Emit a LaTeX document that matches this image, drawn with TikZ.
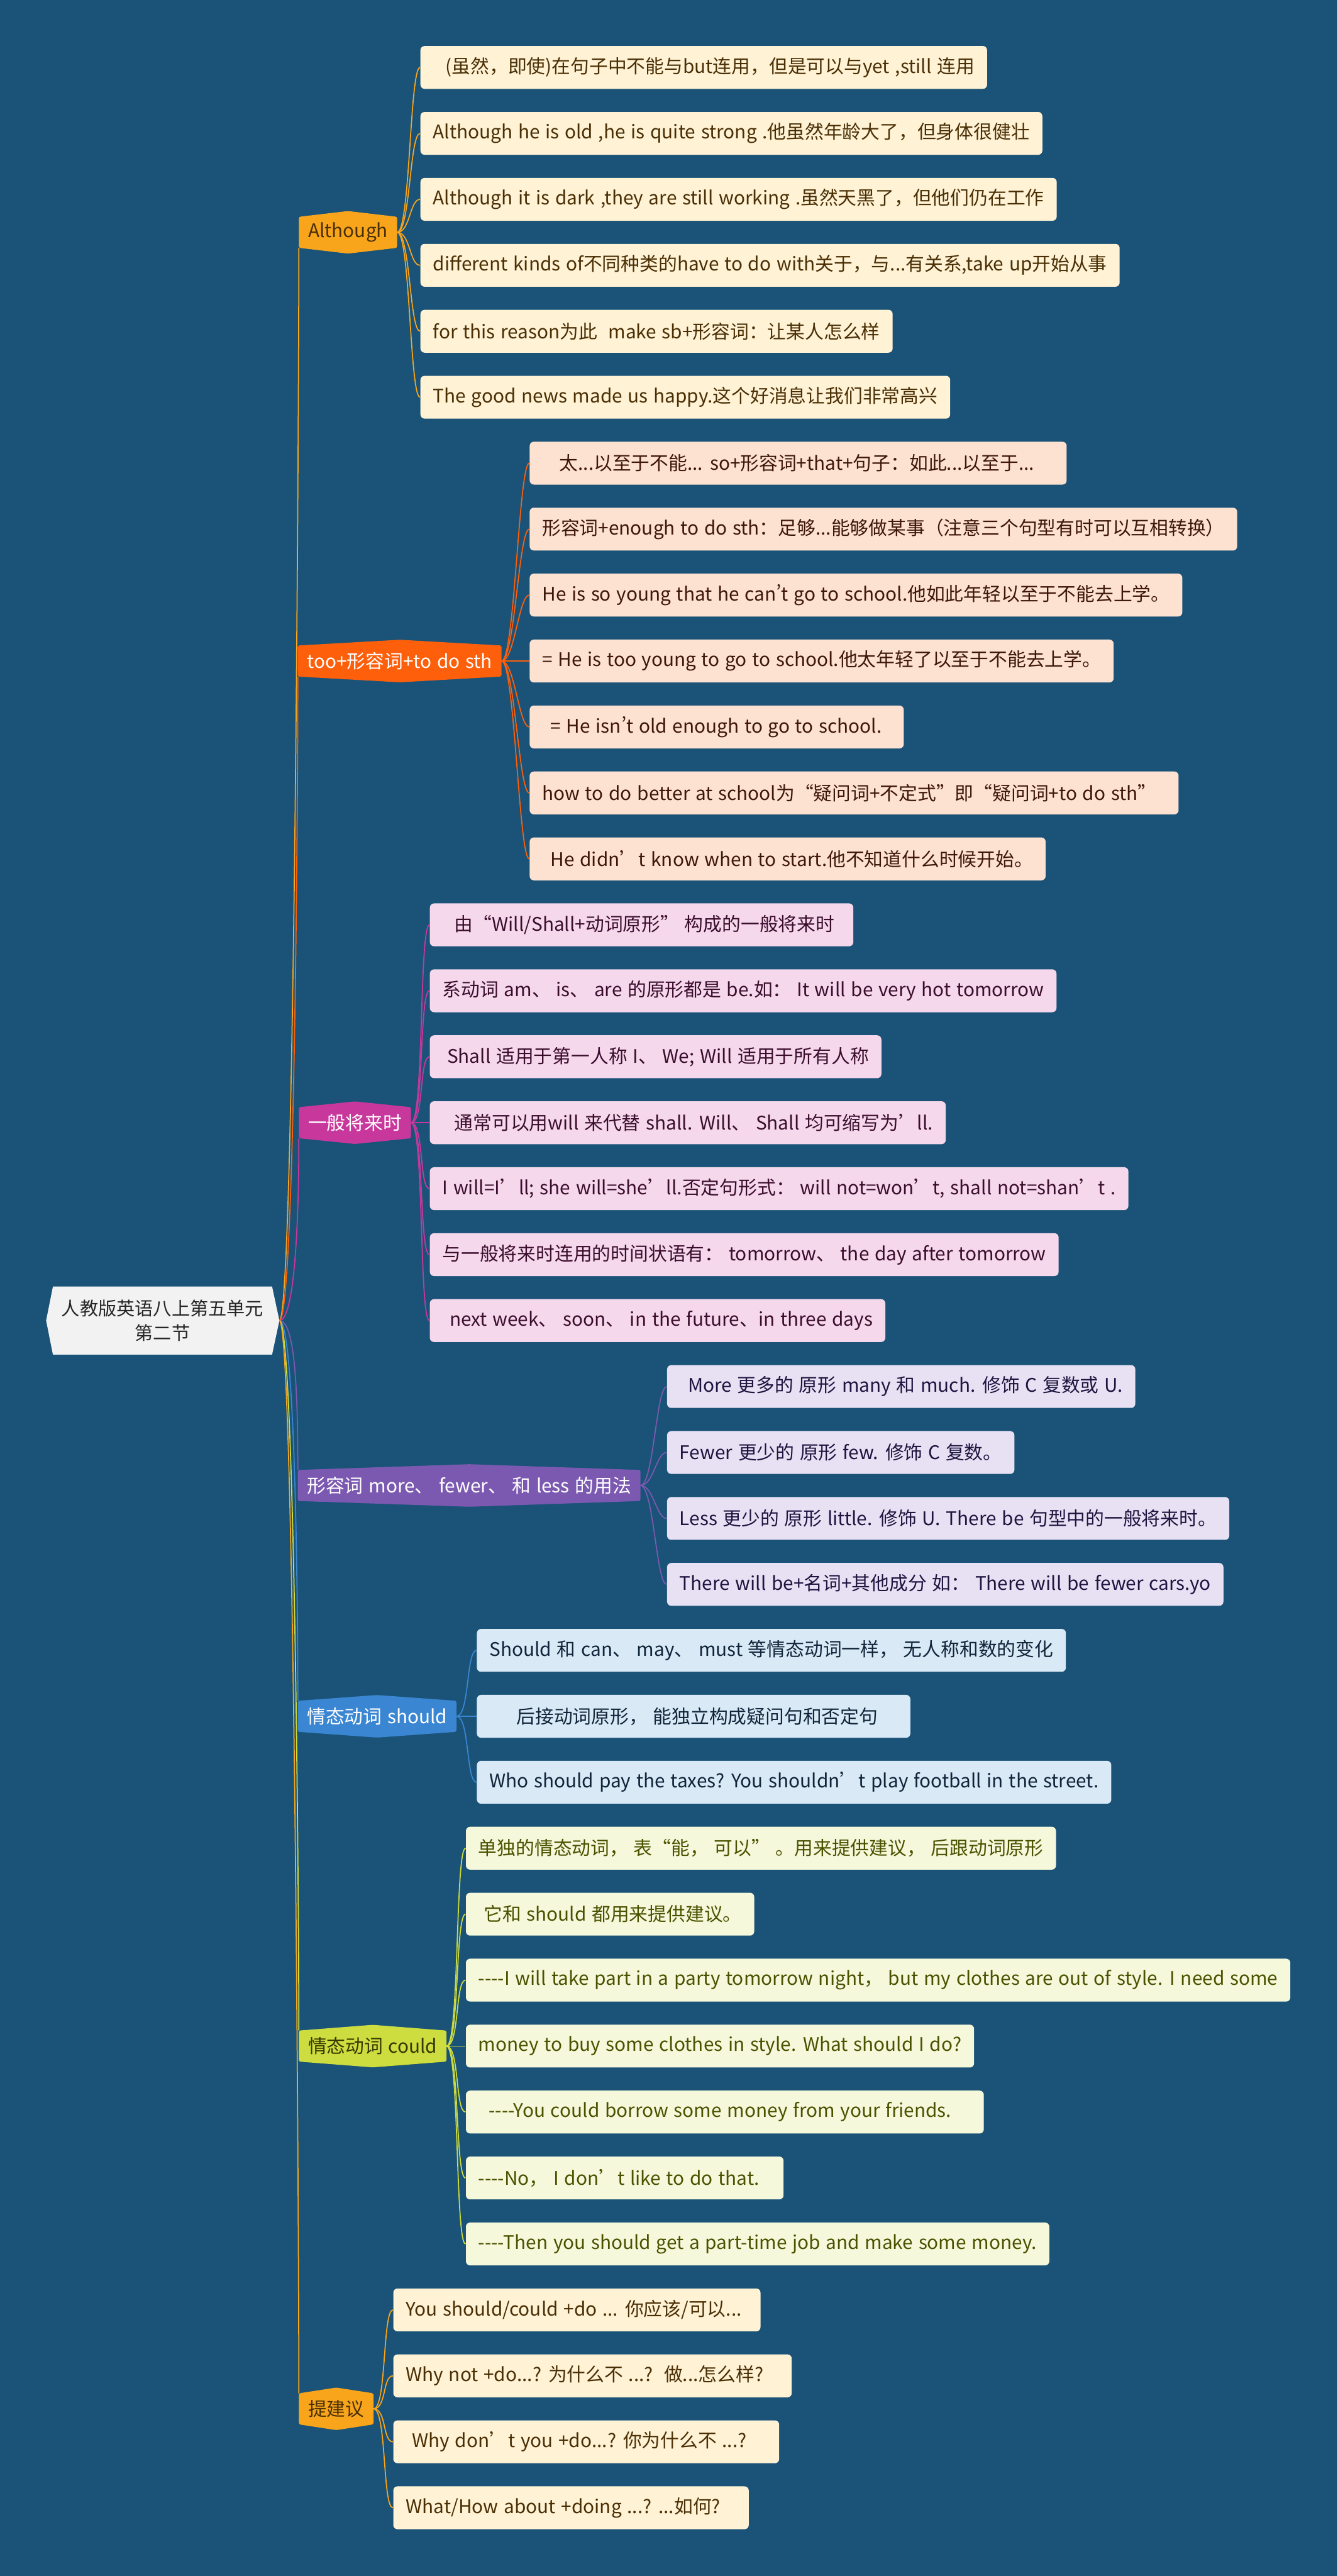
\documentclass[tikz,border=0pt]{standalone}
\usepackage{fontspec}
\newfontfamily\yahei[WordSpace=1.3]{Noto Sans CJK SC}
\usetikzlibrary{calc,backgrounds}

\definecolor{paper}{HTML}{1A5377}
\definecolor{rootFill}{HTML}{F2F2F2}
\definecolor{rootText}{HTML}{262626}
\definecolor{tA}{HTML}{F8A51C}
\definecolor{leafA}{HTML}{FFF2D5}
\definecolor{textA}{HTML}{4A2F05}
\definecolor{tB}{HTML}{FE5F0B}
\definecolor{leafB}{HTML}{FDE1D1}
\definecolor{textB}{HTML}{3E1708}
\definecolor{tC}{HTML}{C8389C}
\definecolor{leafC}{HTML}{F5D8EC}
\definecolor{textC}{HTML}{3B0D2C}
\definecolor{tD}{HTML}{7C59B1}
\definecolor{leafD}{HTML}{E7E1F3}
\definecolor{textD}{HTML}{1E1540}
\definecolor{tE}{HTML}{3A86D2}
\definecolor{leafE}{HTML}{D9E9F6}
\definecolor{textE}{HTML}{10243A}
\definecolor{tF}{HTML}{CDDC3E}
\definecolor{leafF}{HTML}{F5F8DA}
\definecolor{textF}{HTML}{4A5200}

\tikzset{
    topic/.style={inner xsep=0.17cm, inner ysep=0pt, minimum height=0.58cm, anchor=west,
        font=\yahei\fontsize{10.2}{12}\selectfont},
    leaf/.style={rounded corners=0.08cm, minimum height=0.82cm, inner xsep=0.24cm, inner ysep=0pt,
        anchor=west, font=\yahei\fontsize{10.2}{12}\selectfont},
    link/.style={line width=0.6pt},
}
\newcommand{\hexfill}[2]{\fill[#2, rounded corners=1pt] (#1.north west) -- ($(#1.north)+(0,0.11)$) -- (#1.north east) -- (#1.south east) -- ($(#1.south)+(0,-0.11)$) -- (#1.south west) -- cycle;}
\newcommand{\apos}{{\addfontfeature{RawFeature=+pwid}’}}
\newcommand{\tailgap}[1]{\kern#1}

\begin{document}
\begin{tikzpicture}
    \useasboundingbox (0,0) rectangle (25.6,-49.29);

    \node[font=\yahei\fontsize{10}{13.4}\selectfont, align=center, minimum width=4.18cm, minimum height=1.29cm, inner sep=0pt, text=rootText] (root) at (3.11,-25.268) {人教版英语八上第五单元\\第二节};
    \coordinate (tip) at ($(root.east)+(0.14,0)$);

    \node[topic, text=textA] (although) at (5.72,-4.445) {Although};
    \node[topic, text=white] (tooadj) at (5.70,-12.648) {too+形容词+to do sth};
    \node[topic, text=white] (future) at (5.72,-21.482) {一般将来时};
    \node[topic, text=white] (compare) at (5.70,-28.423) {形容词 more、 fewer、 和 less 的用法};
    \node[topic, text=white] (should) at (5.70,-32.84) {情态动词 should};
    \node[topic, text=textF!70!black] (could) at (5.72,-39.15) {情态动词 could};
    \node[topic, text=textA] (advice) at (5.72,-46.091) {提建议};

    \node[leaf, fill=leafA, text=textA] (a1) at (8.04,-1.290) {\hspace{0.24cm}(虽然，即使)在句子中不能与but连用，但是可以与yet ,still 连用};
    \node[leaf, fill=leafA, text=textA] (a2) at (8.04,-2.552) {Although he is old ,he is quite strong .他虽然年龄大了，但身体很健壮};
    \node[leaf, fill=leafA, text=textA] (a3) at (8.04,-3.814) {Although it is dark ,they are still working .虽然天黑了，但他们仍在工作};
    \node[leaf, fill=leafA, text=textA] (a4) at (8.04,-5.076) {different kinds of不同种类的have to do with关于，与...有关系,take up开始从事};
    \node[leaf, fill=leafA, text=textA] (a5) at (8.04,-6.338) {for this reason为此\ \ make sb+形容词：让某人怎么样};
    \node[leaf, fill=leafA, text=textA] (a6) at (8.04,-7.600) {The good news made us happy.这个好消息让我们非常高兴};

    \node[leaf, fill=leafB, text=textB] (t1) at (10.13,-8.862) {\hspace{0.33cm}太...以至于不能... so+形容词+that+句子：如此...以至于...\tailgap{0.38cm}};
    \node[leaf, fill=leafB, text=textB] (t2) at (10.13,-10.124) {形容词+enough to do sth：足够...能够做某事（注意三个句型有时可以互相转换）};
    \node[leaf, fill=leafB, text=textB] (t3) at (10.13,-11.386) {He is so young that he can\apos t go to school.他如此年轻以至于不能去上学。};
    \node[leaf, fill=leafB, text=textB] (t4) at (10.13,-12.648) {= He is too young to go to school.他太年轻了以至于不能去上学。};
    \node[leaf, fill=leafB, text=textB] (t5) at (10.13,-13.910) {\hspace{0.16cm}= He isn\apos t old enough to go to school.\tailgap{0.18cm}};
    \node[leaf, fill=leafB, text=textB] (t6) at (10.13,-15.172) {how to do better at school为“疑问词+不定式”即“疑问词+to do sth”\tailgap{0.18cm}};
    \node[leaf, fill=leafB, text=textB] (t7) at (10.13,-16.434) {\hspace{0.16cm}He didn’t know when to start.他不知道什么时候开始。};

    \node[leaf, fill=leafC, text=textC] (f1) at (8.22,-17.696) {\hspace{0.23cm}由“Will/Shall+动词原形” 构成的一般将来时\tailgap{0.12cm}};
    \node[leaf, fill=leafC, text=textC] (f2) at (8.22,-18.958) {系动词 am、 is、 are 的原形都是 be.如： It will be very hot tomorrow};
    \node[leaf, fill=leafC, text=textC] (f3) at (8.22,-20.220) {\hspace{0.09cm}Shall 适用于第一人称 I、 We; Will 适用于所有人称};
    \node[leaf, fill=leafC, text=textC] (f4) at (8.22,-21.482) {\hspace{0.23cm}通常可以用will 来代替 shall. Will、 Shall 均可缩写为’ll.};
    \node[leaf, fill=leafC, text=textC] (f5) at (8.22,-22.744) {I will=I’ll; she will=she’ll.否定句形式： will not=won’t, shall not=shan’t .};
    \node[leaf, fill=leafC, text=textC] (f6) at (8.22,-24.006) {与一般将来时连用的时间状语有： tomorrow、 the day after tomorrow};
    \node[leaf, fill=leafC, text=textC] (f7) at (8.22,-25.268) {\hspace{0.14cm}next week、 soon、 in the future、in three days};

    \node[leaf, fill=leafD, text=textD] (m1) at (12.76,-26.530) {\hspace{0.16cm}More 更多的 原形 many 和 much. 修饰 C 复数或 U.};
    \node[leaf, fill=leafD, text=textD] (m2) at (12.76,-27.792) {Fewer 更少的 原形 few. 修饰 C 复数。};
    \node[leaf, fill=leafD, text=textD] (m3) at (12.76,-29.054) {Less 更少的 原形 little. 修饰 U. There be 句型中的一般将来时。};
    \node[leaf, fill=leafD, text=textD] (m4) at (12.76,-30.316) {There will be+名词+其他成分 如： There will be fewer cars.yo};

    \node[leaf, fill=leafE, text=textE] (s1) at (9.12,-31.578) {Should 和 can、 may、 must 等情态动词一样， 无人称和数的变化};
    \node[leaf, fill=leafE, text=textE] (s2) at (9.12,-32.840) {\hspace{0.52cm}后接动词原形， 能独立构成疑问句和否定句\tailgap{0.38cm}};
    \node[leaf, fill=leafE, text=textE] (s3) at (9.12,-34.102) {Who should pay the taxes? You shouldn’t play football in the street.};

    \node[leaf, fill=leafF, text=textF] (c1) at (8.91,-35.364) {单独的情态动词， 表“能， 可以” 。用来提供建议， 后跟动词原形};
    \node[leaf, fill=leafF, text=textF] (c2) at (8.91,-36.626) {\hspace{0.1cm}它和 should 都用来提供建议。};
    \node[leaf, fill=leafF, text=textF] (c3) at (8.91,-37.888) {----I will take part in a party tomorrow night， but my clothes are out of style. I need some};
    \node[leaf, fill=leafF, text=textF] (c4) at (8.91,-39.150) {money to buy some clothes in style. What should I do?};
    \node[leaf, fill=leafF, text=textF] (c5) at (8.91,-40.412) {\hspace{0.2cm}----You could borrow some money from your friends.\tailgap{0.38cm}};
    \node[leaf, fill=leafF, text=textF] (c6) at (8.91,-41.674) {----No， I don’t like to do that.\tailgap{0.22cm}};
    \node[leaf, fill=leafF, text=textF] (c7) at (8.91,-42.936) {----Then you should get a part-time job and make some money.};

    \node[leaf, fill=leafA, text=textA] (p1) at (7.52,-44.198) {You should/could +do ... 你应该/可以...\tailgap{0.12cm}};
    \node[leaf, fill=leafA, text=textA] (p2) at (7.52,-45.460) {Why not +do...? 为什么不 ...?\ \ 做...怎么样?\tailgap{0.3cm}};
    \node[leaf, fill=leafA, text=textA] (p3) at (7.52,-46.722) {\hspace{0.12cm}Why don’t you +do...? 你为什么不 ...?\tailgap{0.38cm}};
    \node[leaf, fill=leafA, text=textA] (p4) at (7.52,-47.984) {What/How about +doing ...? ...如何?\tailgap{0.3cm}};

    \draw[link, tA] (tip) .. controls +(0.3,0) and +(0,-2) .. (although.south west);
    \draw[link, tB] (tip) .. controls +(0.3,0) and +(0,-2) .. (tooadj.south west);
    \draw[link, tC] (tip) .. controls +(0.3,0) and +(0,-1.5) .. (future.south west);
    \draw[link, tD] (tip) .. controls +(0.3,0) and +(0,1.5) .. (compare.north west);
    \draw[link, tE] (tip) .. controls +(0.3,0) and +(0,2) .. (should.north west);
    \draw[link, tF] (tip) .. controls +(0.3,0) and +(0,2) .. (could.north west);
    \draw[link, tA] (tip) .. controls +(0.3,0) and +(0,2) .. (advice.north west);

    \draw[link, tA] (although.east) .. controls +(0.25,0) and +(-0.2,0) .. (a1.west);
    \draw[link, tA] (although.east) .. controls +(0.25,0) and +(-0.2,0) .. (a2.west);
    \draw[link, tA] (although.east) .. controls +(0.25,0) and +(-0.2,0) .. (a3.west);
    \draw[link, tA] (although.east) .. controls +(0.25,0) and +(-0.2,0) .. (a4.west);
    \draw[link, tA] (although.east) .. controls +(0.25,0) and +(-0.2,0) .. (a5.west);
    \draw[link, tA] (although.east) .. controls +(0.25,0) and +(-0.2,0) .. (a6.west);

    \draw[link, tB] (tooadj.east) .. controls +(0.25,0) and +(-0.2,0) .. (t1.west);
    \draw[link, tB] (tooadj.east) .. controls +(0.25,0) and +(-0.2,0) .. (t2.west);
    \draw[link, tB] (tooadj.east) .. controls +(0.25,0) and +(-0.2,0) .. (t3.west);
    \draw[link, tB] (tooadj.east) -- (t4.west);
    \draw[link, tB] (tooadj.east) .. controls +(0.25,0) and +(-0.2,0) .. (t5.west);
    \draw[link, tB] (tooadj.east) .. controls +(0.25,0) and +(-0.2,0) .. (t6.west);
    \draw[link, tB] (tooadj.east) .. controls +(0.25,0) and +(-0.2,0) .. (t7.west);

    \draw[link, tC] (future.east) .. controls +(0.25,0) and +(-0.2,0) .. (f1.west);
    \draw[link, tC] (future.east) .. controls +(0.25,0) and +(-0.2,0) .. (f2.west);
    \draw[link, tC] (future.east) .. controls +(0.25,0) and +(-0.2,0) .. (f3.west);
    \draw[link, tC] (future.east) -- (f4.west);
    \draw[link, tC] (future.east) .. controls +(0.25,0) and +(-0.2,0) .. (f5.west);
    \draw[link, tC] (future.east) .. controls +(0.25,0) and +(-0.2,0) .. (f6.west);
    \draw[link, tC] (future.east) .. controls +(0.25,0) and +(-0.2,0) .. (f7.west);

    \draw[link, tD] (compare.east) .. controls +(0.25,0) and +(-0.2,0) .. (m1.west);
    \draw[link, tD] (compare.east) .. controls +(0.25,0) and +(-0.2,0) .. (m2.west);
    \draw[link, tD] (compare.east) .. controls +(0.25,0) and +(-0.2,0) .. (m3.west);
    \draw[link, tD] (compare.east) .. controls +(0.25,0) and +(-0.2,0) .. (m4.west);

    \draw[link, tE] (should.east) .. controls +(0.25,0) and +(-0.2,0) .. (s1.west);
    \draw[link, tE] (should.east) -- (s2.west);
    \draw[link, tE] (should.east) .. controls +(0.25,0) and +(-0.2,0) .. (s3.west);

    \draw[link, tF] (could.east) .. controls +(0.25,0) and +(-0.2,0) .. (c1.west);
    \draw[link, tF] (could.east) .. controls +(0.25,0) and +(-0.2,0) .. (c2.west);
    \draw[link, tF] (could.east) .. controls +(0.25,0) and +(-0.2,0) .. (c3.west);
    \draw[link, tF] (could.east) -- (c4.west);
    \draw[link, tF] (could.east) .. controls +(0.25,0) and +(-0.2,0) .. (c5.west);
    \draw[link, tF] (could.east) .. controls +(0.25,0) and +(-0.2,0) .. (c6.west);
    \draw[link, tF] (could.east) .. controls +(0.25,0) and +(-0.2,0) .. (c7.west);

    \draw[link, tA] (advice.east) .. controls +(0.25,0) and +(-0.2,0) .. (p1.west);
    \draw[link, tA] (advice.east) .. controls +(0.25,0) and +(-0.2,0) .. (p2.west);
    \draw[link, tA] (advice.east) .. controls +(0.25,0) and +(-0.2,0) .. (p3.west);
    \draw[link, tA] (advice.east) .. controls +(0.25,0) and +(-0.2,0) .. (p4.west);

    \begin{scope}[on background layer]
    \fill[paper] (0,0) rectangle (25.6,-49.29);
    \fill[rootFill] (root.north west) -- (root.north east) -- (tip) -- (root.south east) -- (root.south west) -- ($(root.west)+(-0.13,0)$) -- cycle;
    \hexfill{although}{tA}
    \hexfill{tooadj}{tB}
    \hexfill{future}{tC}
    \hexfill{compare}{tD}
    \hexfill{should}{tE}
    \hexfill{could}{tF}
    \hexfill{advice}{tA}
    \end{scope}
\end{tikzpicture}
\end{document}
